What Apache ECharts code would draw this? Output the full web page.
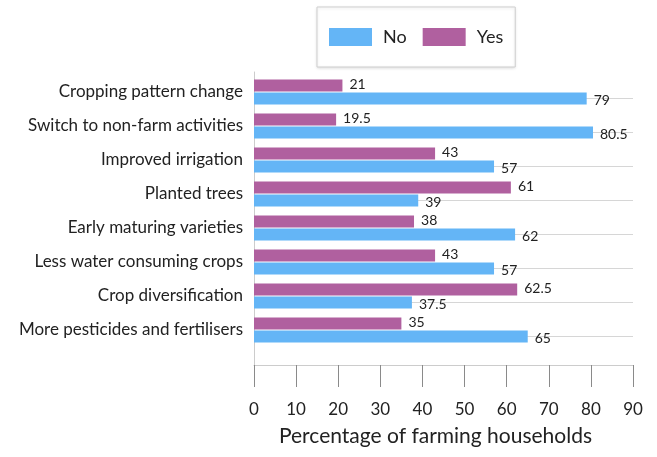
<!DOCTYPE html>
<html>
<head>
<meta charset="utf-8">
<script src="https://cdn.jsdelivr.net/npm/echarts@6/dist/echarts.min.js"></script>
<style>
  html, body { margin: 0; padding: 0; background: #fff; }
  #chart { width: 657px; height: 457px; }
</style>
</head>
<body>
<div id="chart"></div>
<script>
const categories = [
  'Cropping pattern change',
  'Switch to non-farm activities',
  'Improved irrigation',
  'Planted trees',
  'Early maturing varieties',
  'Less water consuming crops',
  'Crop diversification',
  'More pesticides and fertilisers'
];
const yesValues = [21, 19.5, 43, 61, 38, 43, 62.5, 35];
const noValues = [79, 80.5, 57, 39, 62, 57, 37.5, 65];
const xMin = 0, xMax = 90, xStep = 10;

const font = 'Lato';
const chart = echarts.init(document.getElementById('chart'));

const barLabel = {
  show: true,
  position: 'right',
  distance: 7,
  fontFamily: font,
  fontSize: 14,
  color: '#222'
};

chart.setOption({
  animation: false,
  legend: {
    data: ['No', 'Yes'],
    left: 317,
    top: 7,
    padding: [21, 12, 21, 12],
    itemWidth: 43,
    itemHeight: 18,
    itemGap: 16,
    borderColor: '#cfcfcf',
    borderWidth: 1,
    shadowColor: 'rgba(0,0,0,0.12)',
    shadowBlur: 3,
    shadowOffsetY: 1,
    backgroundColor: '#fff',
    icon: 'rect',
    textStyle: { fontFamily: font, fontSize: 18, color: '#222', padding: [0, 0, 0, 6] }
  },
  grid: [
    { left: 254, right: 24, top: 75, height: 272 },
    { left: 254, right: 24, top: 72, bottom: 92 }
  ],
  xAxis: [
    { gridIndex: 0, type: 'value', min: xMin, max: xMax, show: false },
    {
      gridIndex: 1, type: 'value', min: xMin, max: xMax, interval: xStep,
      axisLine: { show: true, lineStyle: { color: '#cccccc' } },
      axisTick: { show: true, length: 22, lineStyle: { color: '#8a8a8a' } },
      axisLabel: { fontFamily: font, fontSize: 17, color: '#222', margin: 36 },
      splitLine: { show: false },
      name: 'Percentage of farming households',
      nameLocation: 'middle',
      nameGap: 61,
      nameTextStyle: { fontFamily: font, fontSize: 21, color: '#222', padding: [0, 16, 0, 0] }
    }
  ],
  yAxis: [
    {
      gridIndex: 0, type: 'category', data: categories, inverse: true,
      axisLine: { show: false }, axisTick: { show: false },
      axisLabel: { fontFamily: font, fontSize: 17, color: '#222', margin: 11 }
    },
    {
      gridIndex: 1, type: 'value', min: 0, max: 1,
      axisLine: { show: true, lineStyle: { color: '#cccccc' } },
      axisTick: { show: false }, axisLabel: { show: false },
      splitLine: { show: false }
    }
  ],
  series: [
    {
      name: 'Yes', type: 'bar', xAxisIndex: 0, yAxisIndex: 0,
      data: yesValues, barWidth: 12, barGap: '10%',
      itemStyle: { color: '#b0609f' },
      label: Object.assign({}, barLabel, { offset: [0, -1] })
    },
    {
      name: 'No', type: 'bar', xAxisIndex: 0, yAxisIndex: 0,
      data: noValues, barWidth: 12, barGap: '10%',
      itemStyle: { color: '#64b5f6' },
      label: Object.assign({}, barLabel, { offset: [0, 2] }),
      markLine: {
        silent: true, symbol: 'none', z: 1,
        label: { show: false },
        lineStyle: { color: '#d6d6d6', type: 'solid', width: 1 },
        data: categories.map(c => ({ yAxis: c }))
      }
    }
  ]
});
</script>
</body>
</html>
